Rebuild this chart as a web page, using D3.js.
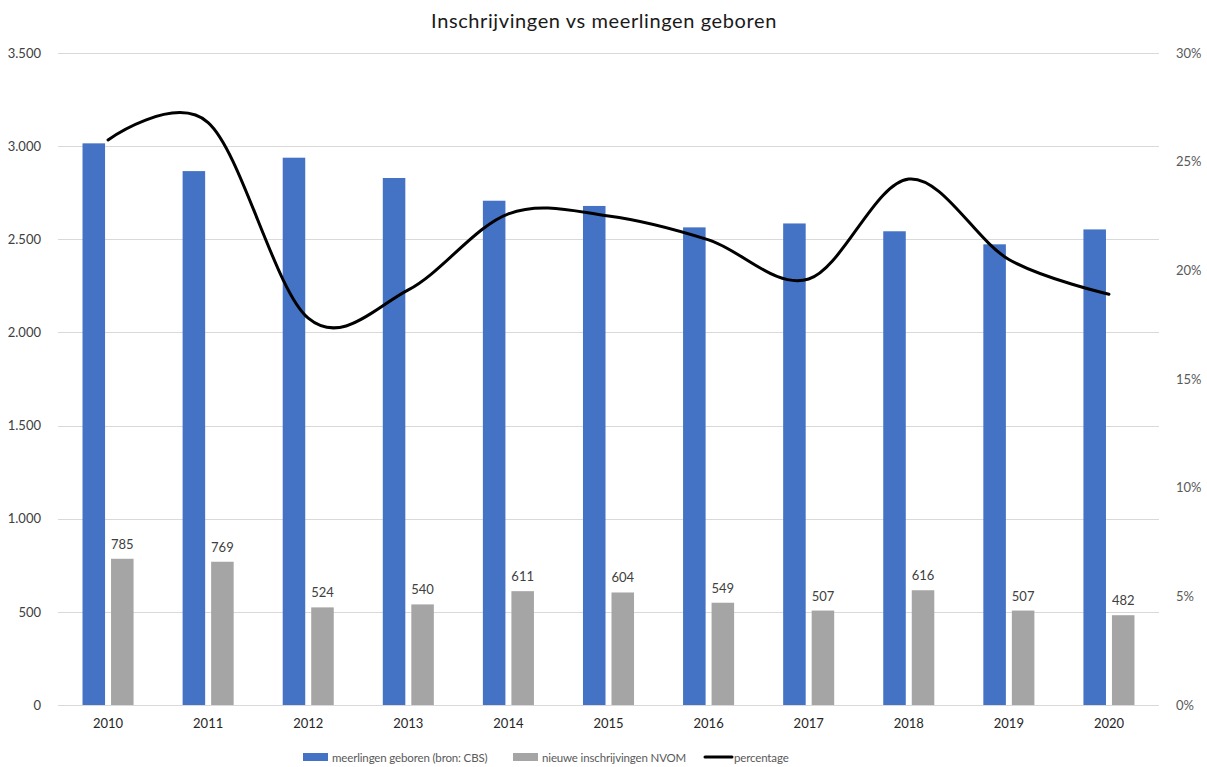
<!doctype html>
<html>
    <head>
        <meta charset="UTF-8">
        <title>Inschrijvingen vs meerlingen geboren</title>
        <script src="https://cdn.jsdelivr.net/npm/d3@7"></script>
        <style>
            body { margin: 0; background: #ffffff; }
            text { font-family: Lato, "Noto Sans", sans-serif; }
        </style>
    </head>
    <body>
        <div id="chart"></div>
        <script>
            const years = ["2010", "2011", "2012", "2013", "2014", "2015", "2016", "2017", "2018", "2019", "2020"];
            const geboren = [3015, 2866, 2938, 2829, 2707, 2679, 2564, 2585, 2543, 2473, 2553];
            const inschrijvingen = [785, 769, 524, 540, 611, 604, 549, 507, 616, 507, 482];
            const percentage = [26.0, 26.8, 17.8, 19.1, 22.6, 22.5, 21.4, 19.6, 24.2, 20.5, 18.9];
            const leftTicks = [0, 500, 1000, 1500, 2000, 2500, 3000, 3500];
            const rightTicks = [0, 5, 10, 15, 20, 25, 30];
            const seriesNames = ["meerlingen geboren (bron: CBS)", "nieuwe inschrijvingen NVOM", "percentage"];

            const W = 1207, H = 767;
            const plotLeft = 58, plotRight = 1159, plotTop = 53, plotBottom = 705;

            const svg = d3.select("#chart").append("svg")
                .attr("width", W).attr("height", H);

            const x0 = d3.scaleBand().domain(years).range([plotLeft, plotRight])
                .paddingInner(0.49).paddingOuter(0.245);
            const x1 = d3.scaleBand().domain(["a", "b"]).range([0, x0.bandwidth()])
                .paddingInner(0.21);
            const y = d3.scaleLinear().domain([0, 3500]).range([plotBottom, plotTop]);
            const yP = d3.scaleLinear().domain([0, 30]).range([plotBottom, plotTop]);

            // title
            svg.append("text")
                .attr("x", 604).attr("y", 28)
                .attr("text-anchor", "middle")
                .style("font-size", "20px").style("letter-spacing", "0.6px").style("fill", "#1a1a1a")
                .text("Inschrijvingen vs meerlingen geboren");

            // gridlines
            svg.append("g").selectAll("line").data(leftTicks).join("line")
                .attr("x1", plotLeft).attr("x2", plotRight)
                .attr("y1", d => Math.round(y(d)) + 0.5).attr("y2", d => Math.round(y(d)) + 0.5)
                .attr("stroke", "#d9d9d9").attr("stroke-width", 1);

            // left axis
            const yAxis = d3.axisLeft(y).tickValues(leftTicks).tickSize(0)
                .tickFormat(d => d3.format(",")(d).replace(/,/g, "."));
            svg.append("g").attr("transform", `translate(${plotLeft - 14},0)`).call(yAxis)
                .call(g => g.select(".domain").remove())
                .call(g => g.selectAll("text").style("font-size", "13px").style("fill", "#404040")
                    .style("font-family", "Lato, sans-serif"));

            // right axis
            const pAxis = d3.axisRight(yP).tickValues(rightTicks).tickSize(0)
                .tickFormat(d => d + "%");
            svg.append("g").attr("transform", `translate(${plotRight + 14},0)`).call(pAxis)
                .call(g => g.select(".domain").remove())
                .call(g => g.selectAll("text").style("font-size", "13px").style("fill", "#595959")
                    .style("font-family", "Lato, sans-serif"));

            // x axis
            const xAxis = d3.axisBottom(x0).tickSize(0).tickPadding(14);
            svg.append("g").attr("transform", `translate(0,${plotBottom})`).call(xAxis)
                .call(g => g.select(".domain").remove())
                .call(g => g.selectAll("text").style("font-size", "13px").style("fill", "#262626")
                    .style("font-family", "Lato, sans-serif"));

            // bars
            svg.append("g").selectAll("rect").data(years).join("rect")
                .attr("x", d => x0(d) + x1("a"))
                .attr("width", x1.bandwidth())
                .attr("y", (d, i) => y(geboren[i]))
                .attr("height", (d, i) => y(0) - y(geboren[i]))
                .attr("fill", "#4472c4");

            svg.append("g").selectAll("rect").data(years).join("rect")
                .attr("x", d => x0(d) + x1("b"))
                .attr("width", x1.bandwidth())
                .attr("y", (d, i) => y(inschrijvingen[i]))
                .attr("height", (d, i) => y(0) - y(inschrijvingen[i]))
                .attr("fill", "#a5a5a5");

            // data labels
            svg.append("g").selectAll("text").data(years).join("text")
                .attr("x", d => x0(d) + x1("b") + x1.bandwidth() / 2)
                .attr("y", (d, i) => y(inschrijvingen[i]) - 10)
                .attr("text-anchor", "middle")
                .style("font-size", "13px").style("fill", "#404040")
                .text((d, i) => inschrijvingen[i]);

            // percentage line
            const line = d3.line()
                .x((d, i) => x0(years[i]) + x0.bandwidth() / 2)
                .y(d => yP(d))
                .curve(d3.curveCatmullRom.alpha(0));
            svg.append("path").datum(percentage)
                .attr("d", line)
                .attr("fill", "none").attr("stroke", "#000000")
                .attr("stroke-width", 3).attr("stroke-linecap", "round");

            // legend
            const lg = svg.append("g").attr("transform", "translate(0,757)");
            const legendText = sel => sel.attr("y", 4.5).style("font-size", "11.5px")
                .style("letter-spacing", "-0.15px").style("fill", "#595959");
            lg.append("rect").attr("x", 303).attr("y", -4).attr("width", 25).attr("height", 8).attr("fill", "#4472c4");
            lg.append("text").attr("x", 332).call(legendText).text(seriesNames[0]);
            lg.append("rect").attr("x", 513).attr("y", -4).attr("width", 25).attr("height", 8).attr("fill", "#a5a5a5");
            lg.append("text").attr("x", 542).call(legendText).text(seriesNames[1]);
            lg.append("line").attr("x1", 705).attr("x2", 732).attr("y1", 0).attr("y2", 0)
                .attr("stroke", "#000").attr("stroke-width", 3).attr("stroke-linecap", "round");
            lg.append("text").attr("x", 734).call(legendText).text(seriesNames[2]);
        </script>
    </body>
</html>
